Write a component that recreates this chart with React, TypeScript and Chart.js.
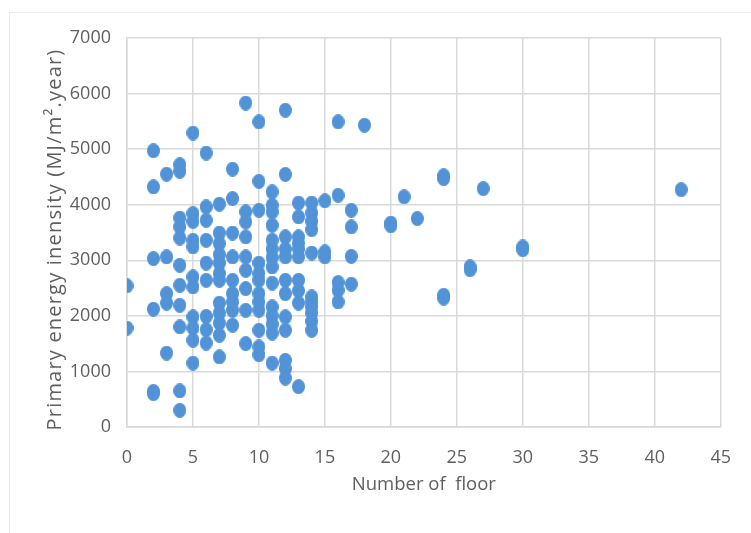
import React, { useEffect, useRef } from "react";
import { Chart, registerables } from "chart.js";

Chart.register(...registerables);

// Number of floors (x) and primary energy intensity (y), paired by index
const floors: number[] = [
  0, 0,
  2, 2, 2, 2, 2, 2,
  3, 3, 3, 3, 3,
  4, 4, 4, 4, 4, 4, 4, 4, 4, 4, 4,
  5, 5, 5, 5, 5, 5, 5, 5, 5, 5, 5,
  6, 6, 6, 6, 6, 6, 6, 6, 6,
  7, 7, 7, 7, 7, 7, 7, 7, 7, 7, 7, 7,
  8, 8, 8, 8, 8, 8, 8, 8, 8,
  9, 9, 9, 9, 9, 9, 9, 9, 9,
  10, 10, 10, 10, 10, 10, 10, 10, 10, 10, 10, 10,
  11, 11, 11, 11, 11, 11, 11, 11, 11, 11, 11, 11, 11, 11,
  12, 12, 12, 12, 12, 12, 12, 12, 12, 12, 12, 12,
  13, 13, 13, 13, 13, 13, 13, 13, 13, 13,
  14, 14, 14, 14, 14, 14, 14, 14, 14, 14, 14,
  15, 15, 15,
  16, 16, 16, 16, 16,
  17, 17, 17, 17,
  18,
  20, 20,
  21,
  22,
  24, 24, 24, 24,
  26, 26,
  27,
  30, 30,
  42,
];

const energy: number[] = [
  2540, 1780,
  4970, 4320, 3030, 2120, 640, 600,
  4550, 3060, 2400, 2230, 1330,
  4720, 4600, 3760, 3600, 3400, 2910, 2550, 2190, 1800, 650, 300,
  5290, 3840, 3700, 3360, 3240, 2700, 2520, 1980, 1780, 1560, 1150,
  4930, 3960, 3720, 3360, 2950, 2640, 1990, 1750, 1510,
  4010, 3490, 3300, 3100, 2950, 2760, 2640, 2230, 2050, 1870, 1650, 1260,
  4640, 4110, 3490, 3060, 2640, 2400, 2250, 2100, 1830,
  5830, 3870, 3690, 3420, 3060, 2820, 2490, 2100, 1500,
  5490, 4420, 3900, 2950, 2760, 2640, 2400, 2250, 2100, 1740, 1440, 1300,
  4230, 3990, 3870, 3630, 3360, 3200, 3050, 2880, 2590, 2160, 2000, 1850, 1690, 1150,
  5700, 4545, 3420, 3200, 3060, 2640, 2400, 1980, 1740, 1200, 1050, 880,
  4030, 3780, 3420, 3300, 3200, 3060, 2640, 2450, 2230, 725,
  4030, 3850, 3700, 3550, 3130, 2340, 2250, 2160, 2050, 1900, 1740,
  4070, 3150, 3060,
  5490, 4170, 2600, 2460, 2250,
  3900, 3600, 3070, 2570,
  5430,
  3670, 3620,
  4140,
  3750,
  4520, 4470, 2370, 2320,
  2880, 2830,
  4290,
  3240, 3190,
  4270,
];

const xTitle = "Number of  floor";
const yTitle = "Primary energy inensity (MJ/m\u00B2.year)";

const textColor = "#5f5f5f";
const markerColor = "#5193d6";

// Draws the vertical axis title, centred where the reference places it
const yTitlePlugin = {
  id: "yTitleText",
  afterDraw(chart: any) {
    const { ctx, chartArea } = chart;
    ctx.save();
    ctx.font = "20px 'Open Sans', sans-serif";
    try {
      (ctx as any).letterSpacing = "1.2px";
    } catch (e) {}
    ctx.fillStyle = textColor;
    ctx.textAlign = "center";
    ctx.textBaseline = "middle";
    ctx.translate(chartArea.left - 72, (chartArea.top + chartArea.bottom) / 2 + 7);
    ctx.rotate(-Math.PI / 2);
    ctx.fillText(yTitle, 0, 0);
    ctx.restore();
  },
};

function makeMarker(): HTMLCanvasElement {
  const c = document.createElement("canvas");
  c.width = 13;
  c.height = 15;
  const g = c.getContext("2d");
  if (g) {
    g.fillStyle = markerColor;
    g.beginPath();
    g.ellipse(6.5, 7.5, 6.5, 7.5, 0, 0, Math.PI * 2);
    g.fill();
  }
  return c;
}

export default function App() {
  const ref = useRef<HTMLCanvasElement | null>(null);

  useEffect(() => {
    if (!ref.current) return;
    const points = floors.map((f, i) => ({ x: f, y: energy[i] }));
    const gridColor = "#d9d9d9";
    const font = { family: "'Open Sans', sans-serif", size: 18 };
    const marker = makeMarker();
    const chart = new Chart(ref.current, {
      type: "scatter",
      data: {
        datasets: [
          {
            data: points,
            backgroundColor: markerColor,
            borderWidth: 0,
            pointStyle: marker as any,
            pointRadius: 7,
            pointHoverRadius: 7,
          },
        ],
      },
      options: {
        responsive: false,
        animation: false,
        layout: { padding: { left: 0, top: 38, right: 21, bottom: 0 } },
        plugins: { legend: { display: false }, tooltip: { enabled: false } },
        scales: {
          x: {
            type: "linear",
            min: 0,
            max: 45,
            ticks: {
              stepSize: 5,
              color: textColor,
              font,
              padding: 20,
              callback: (v: any) => String(v),
            },
            grid: { color: gridColor, lineWidth: 1.5, drawTicks: false },
            border: { color: gridColor, width: 1.5 },
            title: {
              display: true,
              text: xTitle,
              color: textColor,
              font: { family: "'Open Sans', sans-serif", size: 18.5 },
              padding: { top: 0, bottom: 37 },
            },
            afterFit: (scale: any) => {
              scale.height = 106;
            },
          },
          y: {
            type: "linear",
            min: 0,
            max: 7000,
            ticks: {
              stepSize: 1000,
              color: textColor,
              font,
              padding: 16,
              callback: (v: any) => String(v),
            },
            grid: { color: gridColor, lineWidth: 1.5, drawTicks: false },
            border: { color: gridColor, width: 1.5 },
            afterFit: (scale: any) => {
              scale.width = 127;
            },
          },
        },
      },
      plugins: [yTitlePlugin],
    });
    return () => chart.destroy();
  }, []);

  return (
    <div
      style={{
        position: "absolute",
        left: 0,
        top: 0,
        width: 751,
        height: 533,
        background: "#ffffff",
      }}
    >
      <canvas ref={ref} width={751} height={533} style={{ display: "block" }} />
      <div
        style={{
          position: "absolute",
          left: 9,
          top: 12,
          right: 0,
          bottom: 0,
          borderTop: "1px solid #ebebeb",
          borderLeft: "1px solid #ebebeb",
          pointerEvents: "none",
        }}
      />
    </div>
  );
}
